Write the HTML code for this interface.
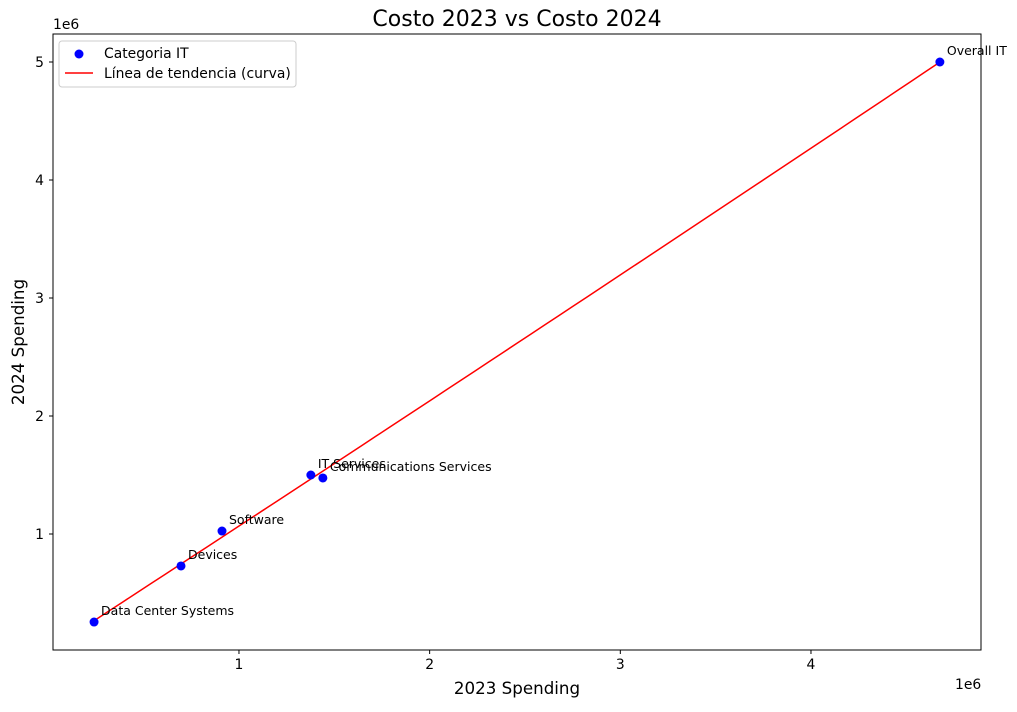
<!DOCTYPE html>
<html><head><meta charset="utf-8"><style>
body{margin:0;background:#fff;font-family:"Liberation Sans","DejaVu Sans",sans-serif;}
svg text{font-family:"DejaVu Sans","Liberation Sans",sans-serif;}
</style></head><body>
<svg id="chart" width="1017" height="707"></svg>
<script>
const categories=["Data Center Systems","Devices","Software","IT Services","Communications Services","Overall IT"];
const spend2023=[240000,696000,911000,1377000,1440000,4676000];
const spend2024=[254000,729000,1025000,1500000,1475000,5000000];
const xTicks=[1,2,3,4];
const yTicks=[1,2,3,4,5];
const L=53,R=981,T=34,B=650;
function sx(v){return 48.3+v/1e6*190.67;}
function sy(v){return 652-v/1e6*118;}
const NS="http://www.w3.org/2000/svg";
const svg=document.getElementById('chart');
function mk(tag,attrs,parent){const e=document.createElementNS(NS,tag);for(const k in attrs)e.setAttribute(k,attrs[k]);(parent||svg).appendChild(e);return e;}
function txt(s,attrs,name){const e=mk('text',attrs);e.textContent=s;

return e;}
const frame=mk('rect',{x:L,y:T,width:R-L,height:B-T,fill:'none',stroke:'#000','stroke-width':1});


xTicks.forEach(t=>{const x=sx(t*1e6);
const l=mk('line',{x1:x,x2:x,y1:B,y2:B+4,stroke:'#000'});


txt(String(t),{x:x,y:B+19,'font-size':13.9,'text-anchor':'middle'},'x-tick-label');});
yTicks.forEach(t=>{const y=sy(t*1e6);
const l=mk('line',{x1:L-4,x2:L,y1:y,y2:y,stroke:'#000'});


txt(String(t),{x:L-9,y:y+5,'font-size':13.9,'text-anchor':'end'},'y-tick-label');});
txt('1e6',{x:955,y:689,'font-size':13.9},'x-offset-label');
txt('1e6',{x:53,y:29,'font-size':13.9},'y-offset-label');
txt('Costo 2023 vs Costo 2024',{x:517,y:26,'font-size':22,'text-anchor':'middle'},'chart-title');
txt('2023 Spending',{x:517,y:694,'font-size':16.7,'text-anchor':'middle'},'x-axis-title');
txt('2024 Spending',{x:24,y:342,'font-size':16.7,'text-anchor':'middle',transform:'rotate(-90 24 342)'},'y-axis-title');
const n=spend2023.length;let S=[0,0,0,0,0],Ty=[0,0,0];
for(let i=0;i<n;i++){const x=spend2023[i]/1e6,y=spend2024[i]/1e6;for(let p=0;p<5;p++)S[p]+=Math.pow(x,p);for(let p=0;p<3;p++)Ty[p]+=y*Math.pow(x,p);}
const A=[[S[0],S[1],S[2],Ty[0]],[S[1],S[2],S[3],Ty[1]],[S[2],S[3],S[4],Ty[2]]];
for(let i=0;i<3;i++){for(let j=i+1;j<3;j++){const f=A[j][i]/A[i][i];for(let k=i;k<4;k++)A[j][k]-=f*A[i][k];}}
const c=[0,0,0];for(let i=2;i>=0;i--){let s=A[i][3];for(let k=i+1;k<3;k++)s-=A[i][k]*c[k];c[i]=s/A[i][i];}
const xs=spend2023.map(v=>v/1e6).sort((a,b)=>a-b);
let d='';for(let k=0;k<=60;k++){const x=xs[0]+(xs[n-1]-xs[0])*k/60;const y=c[0]+c[1]*x+c[2]*x*x;d+=(k?'L':'M')+sx(x*1e6)+','+sy(y*1e6);}
const tl=mk('path',{d:d,fill:'none',stroke:'#ff0000','stroke-width':1.5});


for(let i=0;i<n;i++){const x=sx(spend2023[i]),y=sy(spend2024[i]);
const p=mk('circle',{cx:x,cy:y,r:4.5,fill:'#0000ff'});


txt(categories[i],{x:x+7,y:y-7,'font-size':12.5},'point-label');}
const lg=mk('rect',{x:59,y:41,width:237,height:46,fill:'#fff',stroke:'#ccc',rx:3});


const lc=mk('circle',{cx:79,cy:54,r:4.5,fill:'#0000ff'});


txt('Categoria IT',{x:104,y:58,'font-size':13.9},'legend-entry-points');
const ll=mk('line',{x1:65,x2:93,y1:73,y2:73,stroke:'#ff0000','stroke-width':1.5});


txt('Línea de tendencia (curva)',{x:104,y:78,'font-size':13.9},'legend-entry-trend');
</script>
</body></html>
